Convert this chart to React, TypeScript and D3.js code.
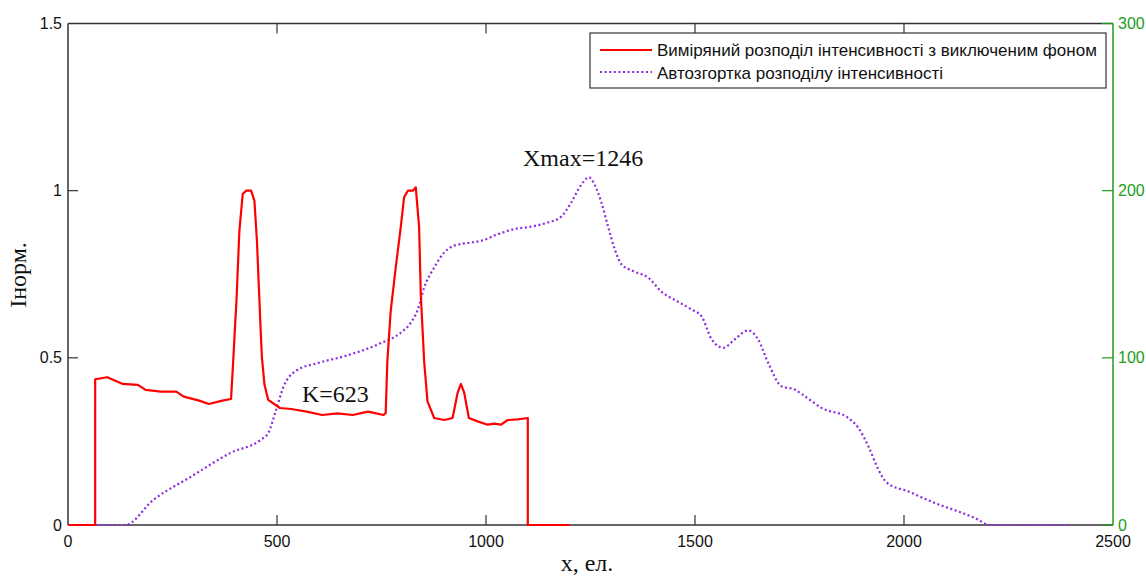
import React from 'react';
import * as d3 from 'd3';

// measured intensity without background (left axis, normalised)
const redX = [0, 65, 65, 94, 131, 167, 186, 222, 259, 277, 314, 337, 369, 390, 395, 399, 403, 410, 418, 426, 438, 446, 452, 457, 461, 464, 470, 479, 507, 534, 571, 608, 645, 681, 718, 755, 760, 764, 772, 784, 796, 804, 813, 825, 832, 840, 844, 852, 860, 876, 900, 920, 932, 940, 948, 959, 980, 1004, 1020, 1036, 1052, 1076, 1100, 1100, 1200];
const redY = [0, 0, 0.436, 0.442, 0.422, 0.419, 0.404, 0.399, 0.399, 0.384, 0.372, 0.362, 0.372, 0.377, 0.485, 0.58, 0.67, 0.88, 0.99, 1.0, 1.0, 0.97, 0.85, 0.7, 0.58, 0.5, 0.42, 0.374, 0.35, 0.347, 0.339, 0.329, 0.334, 0.329, 0.339, 0.329, 0.335, 0.49, 0.64, 0.77, 0.89, 0.98, 1.0, 1.0, 1.01, 0.89, 0.69, 0.49, 0.37, 0.32, 0.314, 0.32, 0.395, 0.422, 0.395, 0.32, 0.31, 0.3, 0.303, 0.3, 0.314, 0.316, 0.32, 0, 0];

// autoconvolution (right axis)
const violetX = [0, 137, 204, 295, 388, 461, 479, 498, 516, 544, 599, 662, 750, 796, 820, 837, 852, 876, 900, 923, 964, 988, 1029, 1067, 1108, 1148, 1180, 1204, 1228, 1246, 1259, 1276, 1292, 1308, 1324, 1356, 1388, 1420, 1460, 1491, 1516, 1540, 1568, 1595, 1627, 1651, 1675, 1707, 1739, 1755, 1803, 1867, 1891, 1915, 1939, 1959, 2011, 2075, 2131, 2171, 2206, 2398];
const violetY = [0, 0, 15, 29, 43, 51, 55, 69, 83, 92, 97, 101, 109, 115, 121, 129, 142, 154, 163, 167, 169, 170, 174, 177, 178.5, 181, 184.5, 193, 203.6, 208, 204, 193, 178.5, 165, 156, 151.5, 148, 139.5, 133.5, 129, 124.7, 111, 106, 111, 116.4, 111, 97, 83, 81, 78.4, 70, 64, 58, 47, 33, 25.3, 20, 13, 8, 4, 0, 0];

const xTicks = [0, 500, 1000, 1500, 2000, 2500];
const yTicks = [0, 0.5, 1, 1.5];
const y2Ticks = [0, 100, 200, 300];

const legendLabels = ['Виміряний розподіл інтенсивності з виключеним фоном', 'Автозгортка розподілу інтенсивності'];

const W = 1146;
const H = 578;
const left = 68;
const right = 1113;
const top = 23.5;
const bottom = 525;

const sans = '"Liberation Sans", Arial, sans-serif';
const serif = '"Liberation Serif", "Times New Roman", serif';
const green = '#1a9e1a';
const axisCol = '#333';

const App = () => {
  const x = d3.scaleLinear().domain([0, 2500]).range([left, right]);
  const y = d3.scaleLinear().domain([0, 1.5]).range([bottom, top]);
  const y2 = d3.scaleLinear().domain([0, 300]).range([bottom, top]);

  const redPath = d3.line<number>()
    .x((d, i) => x(redX[i]))
    .y((d) => y(d))(redY) || '';

  const violetPath = d3.line<number>()
    .x((d, i) => x(violetX[i]))
    .y((d) => y2(d))
    .curve(d3.curveMonotoneX)(violetY) || '';

  return (
    <div style={{ position: 'absolute', left: 0, top: 0 }}>
      <svg width={W} height={H} style={{ display: 'block', background: '#fff' }}>
        {/* box */}
        <line x1={left} x2={left} y1={top} y2={bottom} stroke={axisCol} strokeWidth={1.5} />
        <line x1={left} x2={right} y1={bottom} y2={bottom} stroke={axisCol} strokeWidth={1.5} />
        <line x1={left} x2={right} y1={top} y2={top} stroke={axisCol} strokeWidth={1.5} />

        {/* x ticks */}
        {xTicks.map((t) => (
          <g key={'x' + t}>
            {t > 0 && t < 2500 && (
              <>
                <line x1={x(t)} x2={x(t)} y1={bottom} y2={bottom - 10} stroke={axisCol} strokeWidth={1.2} />
                <line x1={x(t)} x2={x(t)} y1={top} y2={top + 10} stroke={axisCol} strokeWidth={1.2} />
              </>
            )}
            <text x={x(t)} y={bottom + 22} textAnchor="middle" fontFamily={sans} fontSize={16} fill="#111">{t}</text>
          </g>
        ))}

        {/* left y ticks */}
        {yTicks.map((t) => (
          <g key={'y' + t}>
            {t > 0 && t < 1.5 && (
              <line x1={left} x2={left + 10} y1={y(t)} y2={y(t)} stroke={axisCol} strokeWidth={1.2} />
            )}
            <text x={left - 6} y={y(t)} dy="0.35em" textAnchor="end" fontFamily={sans} fontSize={16} fill="#111">{t}</text>
          </g>
        ))}

        {/* right y axis */}
        <line x1={right} x2={right} y1={top} y2={bottom} stroke={green} strokeWidth={1.5} />
        {y2Ticks.map((t) => (
          <g key={'y2' + t}>
            <line x1={right - 11} x2={right} y1={y2(t)} y2={y2(t)} stroke={green} strokeWidth={1.2} />
            <text x={right + 5} y={y2(t)} dy="0.35em" textAnchor="start" fontFamily={sans} fontSize={16} fill={green}>{t}</text>
          </g>
        ))}

        {/* series */}
        <path d={violetPath} fill="none" stroke="#8a2be2" strokeWidth={2.2} strokeDasharray="2,2.6" />
        <path d={redPath} fill="none" stroke="#ff0000" strokeWidth={2.2} strokeLinejoin="round" />

        {/* annotations */}
        <text x={523} y={166} fontFamily={serif} fontSize={24} fill="#111">Xmax=1246</text>
        <text x={302} y={402} fontFamily={serif} fontSize={24} fill="#111">K=623</text>

        {/* axis labels */}
        <text x={587} y={571} textAnchor="middle" fontFamily={serif} fontSize={24} fill="#111">x, ел.</text>
        <text transform={`translate(26, 275) rotate(-90)`} textAnchor="middle" fontFamily={serif} fontSize={24} fill="#111">Iнорм.</text>

        {/* legend */}
        <rect x={590} y={33} width={516} height={55} fill="#fff" stroke={axisCol} strokeWidth={1.2} />
        <line x1={600} x2={652} y1={50} y2={50} stroke="#ff0000" strokeWidth={2} />
        <line x1={600} x2={652} y1={72} y2={72} stroke="#8a2be2" strokeWidth={2} strokeDasharray="2,2.6" />
        <text x={657} y={56} fontFamily={sans} fontSize={17} fill="#111">{legendLabels[0]}</text>
        <text x={657} y={78.5} fontFamily={sans} fontSize={17} fill="#111">{legendLabels[1]}</text>
      </svg>
    </div>
  );
};

export default App;
